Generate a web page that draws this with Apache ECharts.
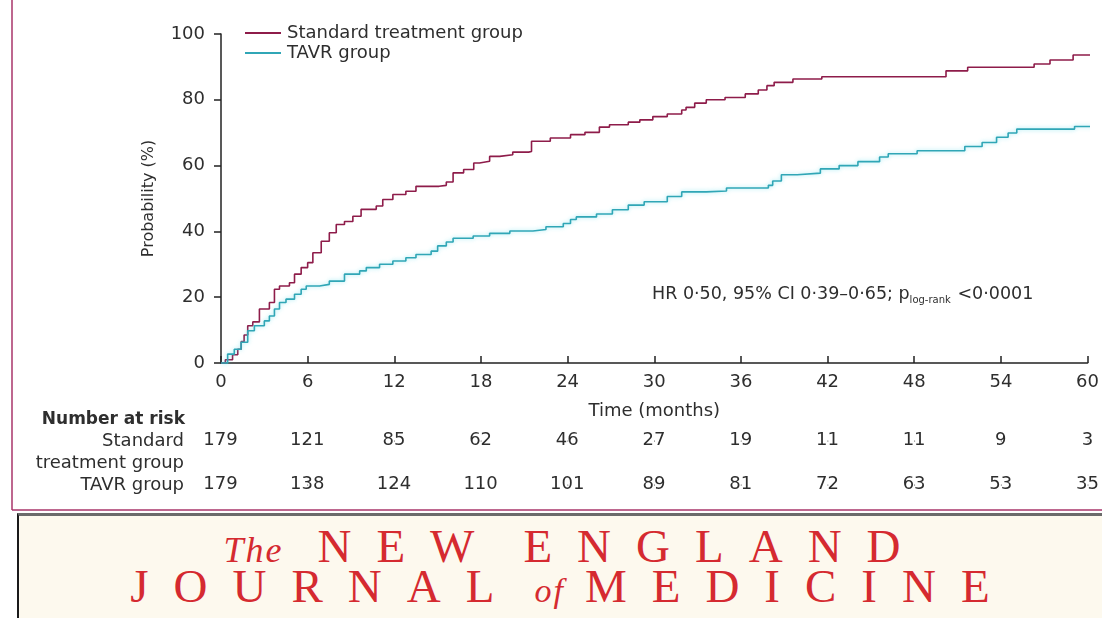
<!DOCTYPE html>
<html>
<head>
<meta charset="utf-8">
<script src="https://cdn.jsdelivr.net/npm/echarts@6.0.0/dist/echarts.min.js"></script>
<style>
  html, body { margin: 0; padding: 0; background: #fff; }
  #wrap { position: relative; width: 1102px; height: 618px; overflow: hidden; }
  #chart { position: absolute; left: 0; top: 0; width: 1102px; height: 618px; }
  /* journal masthead under the figure */
  #banner {
    position: absolute; left: 17px; top: 513px; width: 1085px; height: 105px;
    border-top: 3px solid #6b6b6b; border-left: 2px solid #1a1a1a;
    background: #fdf9ee; color: #d52a30; text-align: center;
    font-family: "Liberation Serif", "DejaVu Serif", serif;
    box-sizing: border-box;
  }
  #banner div { font-size: 47px; letter-spacing: 25px; word-spacing: -12px; height: 40px; line-height: 40px; white-space: nowrap; }
  #banner .l1 { margin-top: 10px; padding-left: 28px; }
  #banner .l2 { padding-left: 24px; }
  #banner i { font-size: 36px; letter-spacing: 2px; word-spacing: 0; margin-right: 34px; line-height: 0; }
  #banner .l2 i { margin-left: -8px; margin-right: 20px; font-size: 34px; }
</style>
</head>
<body>
<div id="wrap">
  <div id="chart"></div>
  <div id="banner">
    <div class="l1"><i>The</i>NEW ENGLAND</div>
    <div class="l2">JOURNAL <i>of</i>MEDICINE</div>
  </div>
</div>
<script>
"use strict";

// cumulative probability (%), step after each time (months)
const stdTime = [0, 0.3, 0.8, 1.16, 1.4, 1.6, 1.85, 2.2, 2.66, 3.35, 3.7, 4.05, 4.74, 5.09, 5.55, 6.0,
  6.36, 6.94, 7.5, 7.98, 8.55, 9.13, 9.7, 10.75, 11.2, 11.9, 12.8, 13.5, 15.1, 15.6, 16.07, 16.8,
  17.5, 17.9, 18.6, 19.3, 20.2, 21.3, 21.5, 22.8, 24.2, 25.2, 26.2, 26.9, 28.2, 29.0, 29.9, 30.9,
  31.9, 32.2, 32.8, 33.6, 34.9, 36.3, 37.2, 37.8, 38.3, 39.6, 41.6, 50.2, 51.7, 56.3, 57.4, 59.0, 61];
const stdProb = [0, 1, 2.5, 4.2, 6.5, 8.5, 11.3, 12.5, 16.4, 18.4, 22.4, 23.4, 24.4, 27, 29, 30.5,
  33.5, 37, 39.6, 42.1, 43, 44.6, 46.7, 47.7, 49.7, 51.2, 52.2, 53.7, 54, 55, 57.8, 58.8,
  60.8, 61.3, 62.8, 63.3, 64.1, 64.3, 67.4, 68.4, 69.4, 70.1, 71.7, 72.4, 73.2, 73.9, 74.9, 75.7,
  76.9, 77.7, 79.0, 80.0, 80.7, 81.8, 83.0, 84.3, 85.3, 86.3, 87.0, 88.8, 89.9, 90.9, 92.1, 93.6, 93.6];

const tavrTime = [0, 0.46, 0.92, 1.39, 1.85, 2.31, 3.0, 3.35, 3.7, 4.05, 4.5, 5.09, 5.55, 5.9, 6.82,
  7.5, 8.55, 9.6, 10.06, 10.98, 11.9, 12.8, 13.5, 14.55, 15.0, 15.6, 16.07, 17.46, 18.6, 20.0,
  21.6, 22.5, 23.7, 24.2, 24.6, 26.0, 27.1, 28.2, 29.3, 30.9, 31.9, 33.6, 35.0, 37.9, 38.2, 38.8,
  39.9, 41.5, 42.8, 44.1, 45.6, 46.2, 48.2, 51.5, 52.7, 53.7, 54.5, 55.1, 59.1, 61];
const tavrProb = [0, 2.7, 4.2, 6.3, 9.8, 11.3, 12.8, 14.3, 16.4, 18.4, 19.4, 20.9, 22.4, 23.4, 23.9,
  24.9, 27, 28, 29, 30, 31, 32, 33, 34, 35.6, 36.8, 37.9, 38.6, 39.4, 40.1,
  40.6, 41.4, 42.4, 43.6, 44.4, 45.3, 46.6, 48.0, 49.0, 50.6, 52.0, 52.3, 53.2, 54.0, 55.3, 57.2,
  57.7, 59.0, 60.0, 61.2, 62.6, 63.6, 64.5, 65.8, 67.0, 68.6, 69.9, 71.1, 71.9, 71.9];

// number at risk table
const riskTime = [0, 6, 12, 18, 24, 30, 36, 42, 48, 54, 60];
const riskStd = [179, 121, 85, 62, 46, 27, 19, 11, 11, 9, 3];
const riskTavr = [179, 138, 124, 110, 101, 89, 81, 72, 63, 53, 35];

const RED = "#8e1c4a", TEAL = "#30a6b6", INK = "#2e2e2e", FRAME = "#a8346a";
const FONT = "'DejaVu Sans', 'Noto Sans', sans-serif";

const zip = (xs, ys) => xs.map((x, i) => [x, ys[i]]);

const chart = echarts.init(document.getElementById("chart"), null, { renderer: "canvas" });

// label-only points: the at-risk counts sit on the same time scale as the curves
const riskLabel = {
  show: true, position: [0, 0], align: "center", verticalAlign: "middle",
  formatter: (p) => p.value[2], opacity: 1,
  fontSize: 18, color: INK, fontFamily: FONT, textBorderWidth: 0,
};

chart.setOption({
  animation: false,
  textStyle: { fontFamily: FONT, color: INK },
  legend: {
    orient: "vertical", left: 245, top: 23, itemGap: 0, padding: 0,
    itemWidth: 36, itemHeight: 2, icon: "rect",
    textStyle: { fontSize: 18, color: INK, lineHeight: 20, padding: [0, 0, 0, 1] },
    data: ["Standard treatment group", "TAVR group"],
  },
  grid: [
    { left: 221, right: 14, top: 34, bottom: 255, containLabel: false },
    { left: 221, right: 14, top: 419, height: 88, containLabel: false },
  ],
  xAxis: [
    {
      gridIndex: 0, type: "value", min: 0, max: 60, interval: 6,
      name: "Time (months)", nameLocation: "middle", nameGap: 39,
      nameTextStyle: { fontSize: 18, color: INK },
      axisLine: { lineStyle: { color: "#222", width: 1.5 } },
      axisTick: { inside: true, length: 7, lineStyle: { color: "#222", width: 1.5 } },
      axisLabel: { fontSize: 18, color: INK, margin: 10 },
      splitLine: { show: false },
    },
    { gridIndex: 1, type: "value", min: 0, max: 60, show: false },
  ],
  yAxis: [
    {
      gridIndex: 0, type: "value", min: 0, max: 100, interval: 20,
      name: "Probability (%)", nameLocation: "middle", nameGap: 64, nameRotate: 90,
      nameTextStyle: { fontSize: 16, color: INK },
      axisLine: { show: true, lineStyle: { color: "#222", width: 1.5 } },
      axisTick: { show: true, length: 7, lineStyle: { color: "#222", width: 1.5 } },
      axisLabel: { fontSize: 18, color: INK, margin: 16 },
      splitLine: { show: false },
    },
    {
      gridIndex: 1, type: "category", inverse: true, show: false,
      data: ["Standard", "TAVR"],
    },
  ],
  series: [
    {
      name: "Standard treatment group", type: "line", step: "end",
      data: zip(stdTime, stdProb), showSymbol: false, clip: false,
      lineStyle: { color: RED, width: 1.6 }, itemStyle: { color: RED },
    },
    {
      name: "TAVR group", type: "line", step: "end",
      data: zip(tavrTime, tavrProb), showSymbol: false, clip: false,
      lineStyle: { color: TEAL, width: 1.6, shadowColor: "rgba(90,220,235,0.6)", shadowBlur: 4 },
      itemStyle: { color: TEAL },
    },
    {
      type: "scatter", xAxisIndex: 1, yAxisIndex: 1, symbolSize: 1, silent: true,
      itemStyle: { color: INK, opacity: 1 },
      data: riskTime.map((t, i) => [t, "Standard", riskStd[i]]),
      label: riskLabel,
    },
    {
      type: "scatter", xAxisIndex: 1, yAxisIndex: 1, symbolSize: 1, silent: true,
      itemStyle: { color: INK, opacity: 1 },
      data: riskTime.map((t, i) => [t, "TAVR", riskTavr[i]]),
      label: riskLabel,
    },
  ],
  graphic: [
    // figure frame (left and bottom rules)
    { type: "line", shape: { x1: 12, y1: 0, x2: 12, y2: 510 }, style: { stroke: FRAME, lineWidth: 1.5 } },
    { type: "line", shape: { x1: 12, y1: 510, x2: 1102, y2: 510 }, style: { stroke: FRAME, lineWidth: 1.5 } },
    {
      type: "text", x: 652, y: 294,
      style: {
        text: "HR 0·50, 95% CI 0·39–0·65; p{sub|log-rank} <0·0001",
        fontSize: 17.5, fill: INK, fontFamily: FONT, verticalAlign: "middle",
        rich: { sub: { fontSize: 10, fill: INK, fontFamily: FONT, padding: [12, 1, 0, 0] } },
      },
    },
    {
      type: "text", x: 185, y: 420,
      style: { text: "Number at risk", fontSize: 17, fontWeight: "bold", fill: INK, fontFamily: FONT, align: "right", verticalAlign: "middle" },
    },
    {
      type: "text", x: 184, y: 441,
      style: { text: "Standard", fontSize: 18, fill: INK, fontFamily: FONT, align: "right", verticalAlign: "middle" },
    },
    {
      type: "text", x: 184, y: 463,
      style: { text: "treatment group", fontSize: 18, fill: INK, fontFamily: FONT, align: "right", verticalAlign: "middle" },
    },
    {
      type: "text", x: 184, y: 485,
      style: { text: "TAVR group", fontSize: 18, fill: INK, fontFamily: FONT, align: "right", verticalAlign: "middle" },
    },
  ],
});
</script>
</body>
</html>
